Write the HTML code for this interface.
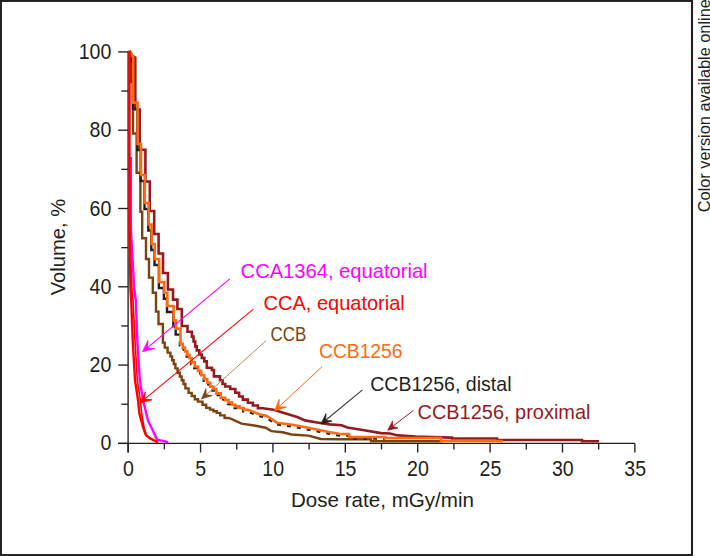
<!DOCTYPE html>
<html><head><meta charset="utf-8">
<style>
html,body{margin:0;padding:0;background:#fff;}
body{width:710px;height:556px;position:relative;overflow:hidden;font-family:"Liberation Sans",sans-serif;}
svg{position:absolute;left:0;top:0;}
</style></head>
<body>
<svg width="710" height="556" viewBox="0 0 710 556" font-family="Liberation Sans, sans-serif">
<rect x="0.9" y="0.9" width="691.1" height="554.2" fill="none" stroke="#231f20" stroke-width="2.1"/>
<text transform="translate(709.6,212.2) rotate(-90)" font-size="16.5" fill="#231f20" textLength="213" lengthAdjust="spacingAndGlyphs">Color version available online</text>
<g stroke="#231f20" stroke-width="1.35" fill="none"><line x1="128.1" y1="51.5" x2="128.1" y2="452.5"/><line x1="118" y1="443.4" x2="635" y2="443.4"/><line x1="118.2" y1="443.40" x2="128.1" y2="443.40"/><line x1="121.3" y1="404.25" x2="128.1" y2="404.25"/><line x1="118.2" y1="365.10" x2="128.1" y2="365.10"/><line x1="121.3" y1="325.95" x2="128.1" y2="325.95"/><line x1="118.2" y1="286.80" x2="128.1" y2="286.80"/><line x1="121.3" y1="247.65" x2="128.1" y2="247.65"/><line x1="118.2" y1="208.50" x2="128.1" y2="208.50"/><line x1="121.3" y1="169.35" x2="128.1" y2="169.35"/><line x1="118.2" y1="130.20" x2="128.1" y2="130.20"/><line x1="121.3" y1="91.05" x2="128.1" y2="91.05"/><line x1="118.2" y1="51.90" x2="128.1" y2="51.90"/><line x1="128.15" y1="443.4" x2="128.15" y2="452.5"/><line x1="200.54" y1="443.4" x2="200.54" y2="452.5"/><line x1="272.93" y1="443.4" x2="272.93" y2="452.5"/><line x1="345.32" y1="443.4" x2="345.32" y2="452.5"/><line x1="417.71" y1="443.4" x2="417.71" y2="452.5"/><line x1="490.10" y1="443.4" x2="490.10" y2="452.5"/><line x1="562.49" y1="443.4" x2="562.49" y2="452.5"/><line x1="634.88" y1="443.4" x2="634.88" y2="452.5"/><line x1="164.34" y1="443.4" x2="164.34" y2="449.4"/><line x1="236.74" y1="443.4" x2="236.74" y2="449.4"/><line x1="309.12" y1="443.4" x2="309.12" y2="449.4"/><line x1="381.51" y1="443.4" x2="381.51" y2="449.4"/><line x1="453.90" y1="443.4" x2="453.90" y2="449.4"/><line x1="526.29" y1="443.4" x2="526.29" y2="449.4"/><line x1="598.68" y1="443.4" x2="598.68" y2="449.4"/></g>
<g fill="none" stroke-linejoin="miter" stroke-linecap="butt">
<polyline points="129.5,51.0 131.0,56.0 131.0,82.0 133.0,82.0 133.0,133.5 136.6,133.5 136.6,172.7 140.4,172.7 140.4,211.7 142.2,211.7 142.2,238.3 146.0,238.3 146.0,259.0 149.0,259.0 149.0,277.6 152.8,277.6 152.8,292.7 156.0,292.7 156.0,311.6 158.5,311.6 158.5,324.0 162.9,324.0 162.9,340.0 162.9,342.6 164.7,342.6 164.7,347.6 167.6,347.6 167.6,352.6 170.4,352.6 170.4,356.4 172.1,356.4 172.1,360.2 173.7,360.2 173.7,364.0 175.4,364.0 175.4,368.4 177.6,368.4 177.6,372.8 179.8,372.8 179.8,376.5 181.7,376.5 181.7,380.3 183.5,380.3 183.5,384.0 185.4,384.0 185.4,388.4 188.6,388.4 188.6,392.9 191.7,392.9 191.7,396.0 194.8,396.0 194.8,399.2 198.0,399.2 198.0,401.6 202.5,401.6 202.5,404.8 206.2,404.8 206.2,407.9 210.0,407.9 210.0,409.6 213.4,409.6 213.4,411.2 216.8,411.2 216.8,412.9 220.2,412.9 220.2,415.4 224.6,415.4 224.6,418.0 229.0,418.0 241.6,423.6 254.2,425.5 265.6,427.7 271.3,431.1 282.5,432.3 291.5,434.5 308.5,435.6 320.8,439.0 340.0,439.3 371.0,439.3 371.0,441.2 441.0,441.2 441.0,442.6" stroke="#7b4310" stroke-width="2.4"/>
<polyline points="129.6,51.0 132.2,56.0 135.3,57.5 135.3,109.5 139.7,109.5 139.7,149.8 145.4,149.8 145.4,181.5 149.8,181.5 149.8,211.0 154.2,211.0 154.2,234.0 158.6,234.0 158.6,253.5 163.0,253.5 163.0,273.0 167.9,273.0 167.9,289.5 173.0,289.5 173.0,299.6 177.4,299.6 177.4,309.0 181.8,309.0 181.8,326.0 187.5,326.0 187.5,331.7 191.9,331.7 191.9,336.6 193.5,336.6 193.5,341.5 195.2,341.5 195.2,346.4 196.8,346.4 196.8,350.4 199.3,350.4 199.3,354.5 201.8,354.5 201.8,357.9 204.3,357.9 204.3,361.4 206.8,361.4 206.8,367.7 211.9,367.7 211.9,370.0 213.9,370.0 213.9,376.4 220.0,376.4 220.0,380.2 222.6,380.2 222.6,384.0 225.2,384.0 225.2,386.5 230.2,386.5 230.2,389.0 235.3,389.0 235.3,392.8 239.1,392.8 239.1,396.5 242.8,396.5 242.8,399.6 247.9,399.6 247.9,402.8 252.9,402.8 252.9,405.5 257.9,405.5 257.9,408.2 263.0,408.2 273.5,409.7 288.2,414.2 297.2,417.0 305.0,420.4 318.6,422.7 329.9,424.4 341.6,425.2 347.3,427.5 364.2,430.3 381.0,433.1 390.0,433.5 398.0,435.4 416.0,436.5 450.0,437.6 452.0,437.6 452.0,438.5 497.0,438.5 497.0,440.0 582.0,440.0 582.0,441.3 597.7,441.3 597.7,442.6" stroke="#951a1e" stroke-width="2.6"/>
<polyline points="129.3,57.0 132.9,63.0 132.9,108.6 137.3,108.6 137.3,150.0 140.7,150.0 140.7,181.0 144.5,181.0 144.5,209.0 148.3,209.0 148.3,230.5 151.3,230.5 151.3,250.0 154.5,250.0 154.5,265.0 158.9,265.0 158.9,288.0 163.9,288.0 163.9,298.7 167.0,298.7 167.0,312.0 173.3,312.0 173.3,326.4 175.7,326.4 175.7,334.6 180.2,334.6" stroke="#231f20" stroke-width="2.4"/>
<polyline points="179.9,341.6 179.9,345.4 182.2,345.4 182.2,349.2 184.4,349.2 184.4,353.0 186.7,353.0 186.7,356.5 188.9,356.5 188.9,359.9 191.1,359.9 191.1,364.0 194.2,364.0 194.2,368.1 197.4,368.1 197.4,372.5 200.6,372.5 200.6,376.9 203.7,376.9 203.7,380.7 206.6,380.7 206.6,384.4 209.6,384.4 209.6,388.2 212.5,388.2 212.5,390.6 215.8,390.6 215.8,395.0 220.2,395.0 220.2,399.4 224.6,399.4 224.6,401.7 228.0,401.7 228.0,404.0 231.3,404.0 231.3,406.3 234.7,406.3 234.7,408.0 238.9,408.0 238.9,409.6 243.1,409.6 243.1,411.3 247.3,411.3 258.6,415.8 266.2,417.6 276.3,424.3 293.2,426.6 310.1,429.9 327.0,433.3 339.4,435.6 348.4,435.6 348.4,438.6 384.4,438.6 384.4,439.6" stroke="#231f20" stroke-width="2.4" stroke-dasharray="4 6"/>
<polyline points="129.6,51.0 133.2,57.0 133.2,102.6 137.6,102.6 137.6,144.0 141.0,144.0 141.0,175.0 144.8,175.0 144.8,203.0 148.6,203.0 148.6,224.5 151.6,224.5 151.6,244.0 154.8,244.0 154.8,259.0 159.2,259.0 159.2,282.0 164.2,282.0 164.2,292.7 167.3,292.7 167.3,306.0 173.6,306.0 173.6,320.4 176.0,320.4 176.0,328.6 180.5,328.6 180.5,340.0 180.5,343.8 182.8,343.8 182.8,347.6 185.0,347.6 185.0,351.4 187.3,351.4 187.3,354.9 189.5,354.9 189.5,358.3 191.7,358.3 191.7,362.4 194.8,362.4 194.8,366.5 198.0,366.5 198.0,370.9 201.2,370.9 201.2,375.3 204.3,375.3 204.3,379.1 207.2,379.1 207.2,382.8 210.2,382.8 210.2,386.6 213.1,386.6 213.1,389.0 216.4,389.0 216.4,393.4 220.8,393.4 220.8,397.8 225.2,397.8 225.2,400.1 228.6,400.1 228.6,402.4 231.9,402.4 231.9,404.7 235.3,404.7 235.3,406.4 239.5,406.4 239.5,408.0 243.7,408.0 243.7,409.7 247.9,409.7 259.2,414.2 266.8,416.0 276.9,422.7 293.8,425.0 310.7,428.3 327.6,431.7 340.0,434.0 349.0,434.0 349.0,437.0 385.0,437.0 385.0,438.0 441.0,438.0 441.0,441.0 501.7,441.0 501.7,442.6" stroke="#ff6a13" stroke-width="2.6"/>
<polyline points="130.9,157.0 130.9,230.0 134.3,290.0 135.8,300.0 137.3,340.0 139.8,380.0 143.0,400.0 145.5,410.0 148.0,420.7 152.5,429.7 157.0,439.6 166.9,441.8 168.0,442.6" stroke="#ff00ff" stroke-width="2.4"/>
<polyline points="129.5,50.5 129.5,230.0 130.5,290.0 131.2,300.0 132.7,340.0 135.0,380.0 138.0,400.0 139.4,413.5 143.0,427.0 145.8,435.0 150.5,438.7 156.0,441.4 158.0,442.6" stroke="#ff0000" stroke-width="2.4"/>
<polyline points="129.5,230.0 132.0,290.0 133.0,300.0 135.0,340.0 137.3,380.0 140.3,400.0 141.7,413.5 144.0,427.0 146.1,435.0 150.5,438.7" stroke="#ff0000" stroke-width="1.6"/>
</g>
<line x1="229.8" y1="278.9" x2="147.2" y2="347.9" stroke="#ff00ff" stroke-width="1.2"/><path d="M142.6,351.7 L154.7,348.5 L147.2,347.9 L147.9,340.4 Z" fill="#ff00ff" stroke="#ff00ff" stroke-width="0.8" stroke-linejoin="round"/><line x1="253.4" y1="309.2" x2="144.6" y2="399.2" stroke="#ff0000" stroke-width="1.1"/><path d="M140.0,403.0 L152.1,399.8 L144.6,399.2 L145.4,391.7 Z" fill="#ff0000" stroke="#ff0000" stroke-width="0.8" stroke-linejoin="round"/><line x1="265.9" y1="340.8" x2="206.1" y2="394.8" stroke="#a7804f" stroke-width="0.9"/><path d="M201.6,398.8 L212.1,395.6 L206.1,394.8 L205.9,388.7 Z" fill="#7b4310" stroke="#7b4310" stroke-width="0.8" stroke-linejoin="round"/><line x1="322.0" y1="366.7" x2="278.9" y2="406.8" stroke="#ff6a13" stroke-width="1.0"/><path d="M274.5,410.9 L286.4,407.0 L278.9,406.8 L279.2,399.3 Z" fill="#ff6a13" stroke="#ff6a13" stroke-width="0.8" stroke-linejoin="round"/><line x1="362.5" y1="389.9" x2="325.6" y2="420.2" stroke="#3a3a3a" stroke-width="1.1"/><path d="M321.0,424.0 L332.1,421.1 L325.6,420.2 L326.0,413.6 Z" fill="#231f20" stroke="#231f20" stroke-width="0.8" stroke-linejoin="round"/><line x1="413.4" y1="410.4" x2="392.5" y2="426.5" stroke="#951a1e" stroke-width="1.0"/><path d="M387.8,430.2 L398.0,427.9 L392.5,426.5 L392.6,420.9 Z" fill="#951a1e" stroke="#951a1e" stroke-width="0.8" stroke-linejoin="round"/>
<g font-size="22" fill="#231f20"><text transform="translate(111.3,450.4) scale(0.89,1)" text-anchor="end">0</text><text transform="translate(111.3,372.1) scale(0.89,1)" text-anchor="end">20</text><text transform="translate(111.3,293.8) scale(0.89,1)" text-anchor="end">40</text><text transform="translate(111.3,215.5) scale(0.89,1)" text-anchor="end">60</text><text transform="translate(111.3,137.2) scale(0.89,1)" text-anchor="end">80</text><text transform="translate(111.3,58.9) scale(0.89,1)" text-anchor="end">100</text><text transform="translate(128.5,475.6) scale(0.89,1)" text-anchor="middle">0</text><text transform="translate(200.8,475.6) scale(0.89,1)" text-anchor="middle">5</text><text transform="translate(273.2,475.6) scale(0.89,1)" text-anchor="middle">10</text><text transform="translate(345.6,475.6) scale(0.89,1)" text-anchor="middle">15</text><text transform="translate(418.0,475.6) scale(0.89,1)" text-anchor="middle">20</text><text transform="translate(490.4,475.6) scale(0.89,1)" text-anchor="middle">25</text><text transform="translate(562.8,475.6) scale(0.89,1)" text-anchor="middle">30</text><text transform="translate(635.2,475.6) scale(0.89,1)" text-anchor="middle">35</text></g>
<text x="291" y="507" font-size="20.3" fill="#231f20" textLength="183" lengthAdjust="spacingAndGlyphs">Dose rate, mGy/min</text>
<text transform="translate(64.5,295.3) rotate(-90)" font-size="20.3" fill="#231f20" textLength="96.5" lengthAdjust="spacingAndGlyphs">Volume, %</text>
<text x="240.6" y="278.2" fill="#ff00ff" font-size="20.3" textLength="187" lengthAdjust="spacingAndGlyphs">CCA1364, equatorial</text><text x="263.5" y="309.6" fill="#ff0000" font-size="20.3" textLength="141.3" lengthAdjust="spacingAndGlyphs">CCA, equatorial</text><text x="270.4" y="340.6" fill="#7b4310" font-size="20.3" textLength="35.8" lengthAdjust="spacingAndGlyphs">CCB</text><text x="319.0" y="358.3" fill="#ff6a13" font-size="20.3" textLength="83.5" lengthAdjust="spacingAndGlyphs">CCB1256</text><text x="370.2" y="390.7" fill="#231f20" font-size="20.3" textLength="141.3" lengthAdjust="spacingAndGlyphs">CCB1256, distal</text><text x="417.5" y="419.3" fill="#951a1e" font-size="20.3" textLength="173" lengthAdjust="spacingAndGlyphs">CCB1256, proximal</text>
</svg>
</body></html>
